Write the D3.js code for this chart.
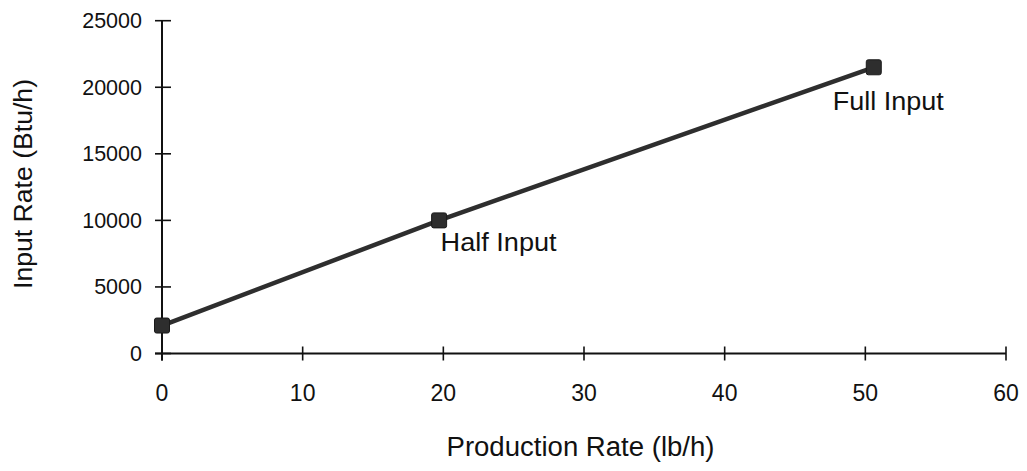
<!DOCTYPE html>
<html><head><meta charset="utf-8">
<script src="https://cdn.jsdelivr.net/npm/d3@7"></script>
<style>body{margin:0;background:#fff}text{font-family:"Liberation Sans",Arial,sans-serif;fill:#111}</style>
</head><body>
<svg id="c" width="1027" height="471"></svg>
<script>
const xValues = [0, 19.7, 50.6];
const yValues = [2100, 10000, 21500];
const pointLabels = ["", "Half Input", "Full Input"];
const xTicks = [0, 10, 20, 30, 40, 50, 60];
const yTicks = [0, 5000, 10000, 15000, 20000, 25000];
const xTitle = "Production Rate (lb/h)";
const yTitle = "Input Rate (Btu/h)";

const svg = d3.select("#c");
const x = d3.scaleLinear().domain([0, 60]).range([162, 1006]);
const y = d3.scaleLinear().domain([0, 25000]).range([353.5, 20.7]);

const axCol = "#111";
// x axis
svg.append("line").attr("x1", x(0) - 7).attr("x2", x(60)).attr("y1", y(0)).attr("y2", y(0))
  .attr("stroke", axCol).attr("stroke-width", 2);
svg.selectAll(".xt").data(xTicks).enter().append("line")
  .attr("x1", d => x(d)).attr("x2", d => x(d)).attr("y1", y(0) - 7).attr("y2", y(0) + 7)
  .attr("stroke", axCol).attr("stroke-width", 1.6);
svg.selectAll(".xl").data(xTicks).enter().append("text")
  .attr("x", d => x(d)).attr("y", 400.5).attr("text-anchor", "middle")
  .attr("font-size", 23).text(d => d);
// y axis
svg.append("line").attr("x1", x(0)).attr("x2", x(0)).attr("y1", y(0) + 7).attr("y2", y(25000))
  .attr("stroke", axCol).attr("stroke-width", 2);
svg.selectAll(".yt").data(yTicks).enter().append("line")
  .attr("x1", x(0) - 7).attr("x2", x(0) + 9).attr("y1", d => y(d)).attr("y2", d => y(d))
  .attr("stroke", axCol).attr("stroke-width", 1.6);
svg.selectAll(".yl").data(yTicks).enter().append("text")
  .attr("x", 142).attr("y", d => y(d) + 7.5).attr("text-anchor", "end")
  .attr("font-size", 21.5)
  .text(d => d);
// titles
svg.append("text").attr("x", 580.5).attr("y", 456).attr("text-anchor", "middle")
  .attr("font-size", 27).attr("textLength", 268).attr("lengthAdjust", "spacingAndGlyphs").text(xTitle);
svg.append("text").attr("transform", "translate(32,184) rotate(-90)").attr("text-anchor", "middle")
  .attr("font-size", 25.5).attr("textLength", 210).attr("lengthAdjust", "spacingAndGlyphs").text(yTitle);

// line
const pts = xValues.map((v, i) => [v, yValues[i]]);
svg.append("path").datum(pts)
  .attr("d", d3.line().x(d => x(d[0])).y(d => y(d[1])))
  .attr("fill", "none").attr("stroke", "#2e2e2e").attr("stroke-width", 4.5);
svg.selectAll(".m").data(pts).enter().append("rect")
  .attr("x", d => x(d[0]) - 7.5).attr("y", d => y(d[1]) - 7.5)
  .attr("width", 15).attr("height", 15).attr("rx", 2)
  .attr("fill", "#2e2e2e").attr("stroke", "#1a1a1a").attr("stroke-width", 1);
const labelDx = [0, 1.5, -41];
const labelDy = [0, 31, 42.5];
const labelLen = [0, 116, 111];
svg.selectAll(".pl").data(pts).enter().append("text")
  .filter((d, i) => pointLabels[i] !== "")
  .attr("x", d => x(d[0]) + labelDx[pts.indexOf(d)])
  .attr("y", d => y(d[1]) + labelDy[pts.indexOf(d)])
  .attr("font-size", 25.5)
  .attr("textLength", d => labelLen[pts.indexOf(d)]).attr("lengthAdjust", "spacingAndGlyphs")
  .text(d => pointLabels[pts.indexOf(d)]);
</script>
</body></html>
